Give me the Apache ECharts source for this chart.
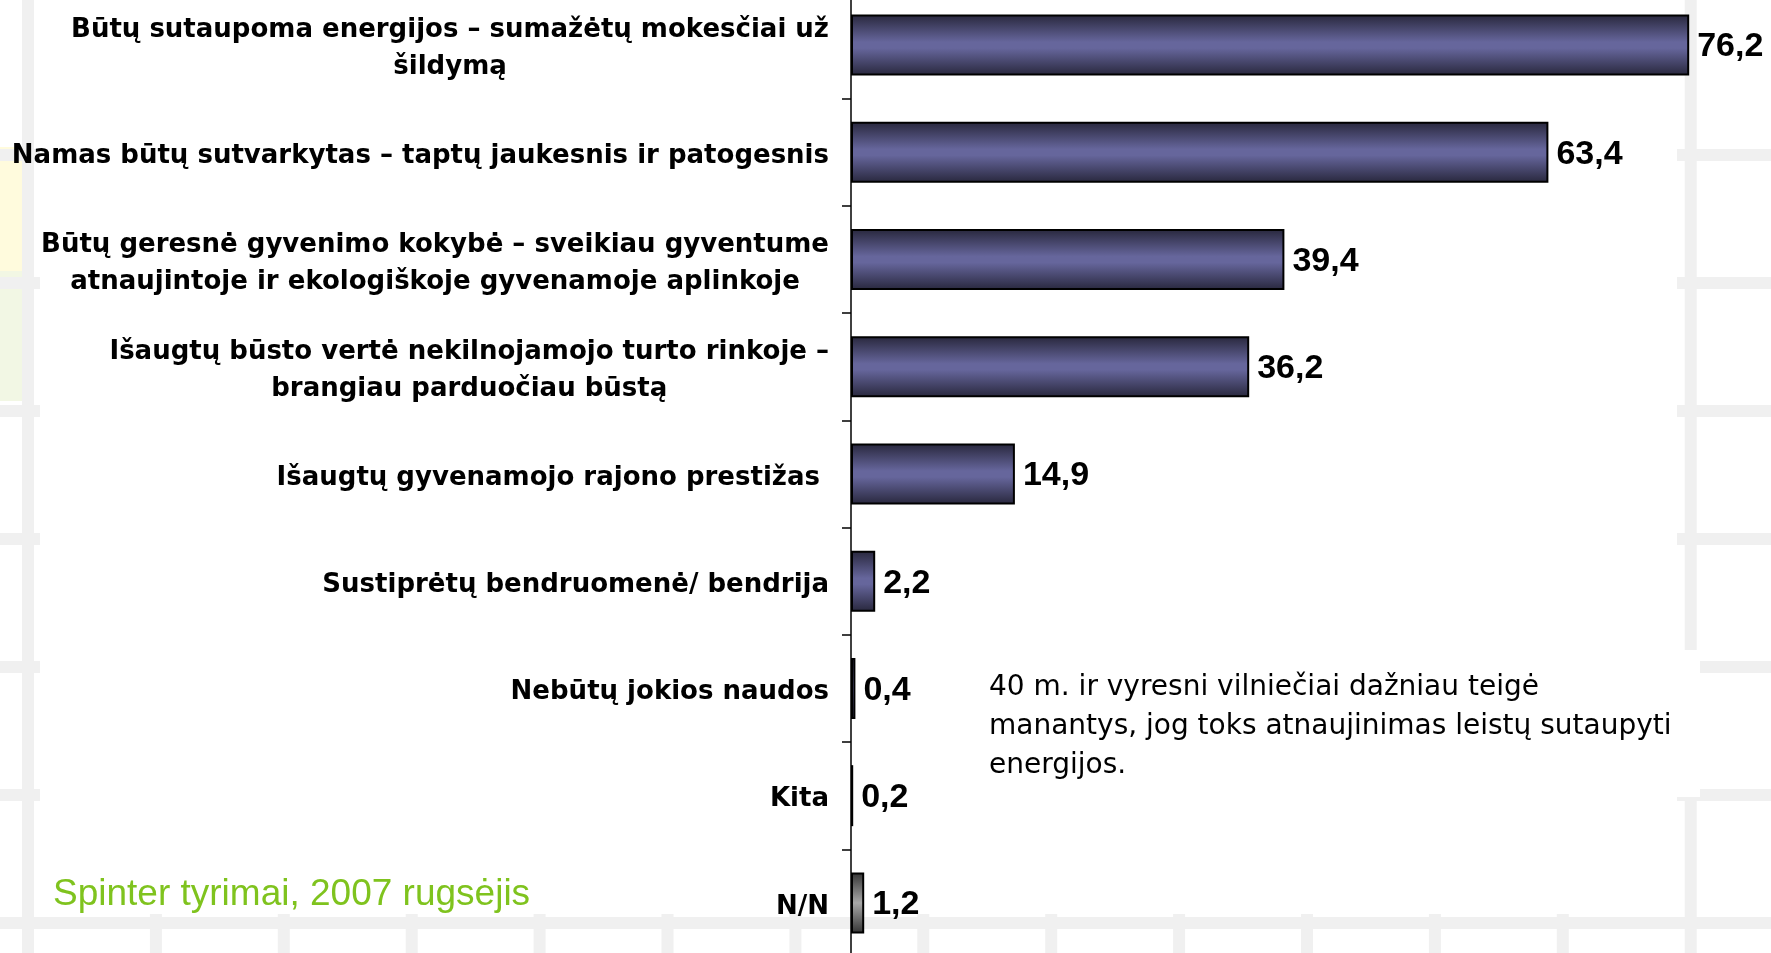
<!DOCTYPE html>
<html><head><meta charset="utf-8">
<script src="https://cdn.jsdelivr.net/npm/echarts@6/dist/echarts.min.js"></script>
<style>html,body{margin:0;padding:0;background:#fff}#c{width:1771px;height:953px}</style>
</head><body><div id="c"></div>
<script>
const categories = [
  'Būtų sutaupoma energijos – sumažėtų mokesčiai už\nšildymą',
  'Namas būtų sutvarkytas – taptų jaukesnis ir patogesnis',
  'Būtų geresnė gyvenimo kokybė – sveikiau gyventume\natnaujintoje ir ekologiškoje gyvenamoje aplinkoje',
  'Išaugtų būsto vertė nekilnojamojo turto rinkoje –\nbrangiau parduočiau būstą',
  'Išaugtų gyvenamojo rajono prestižas ',
  'Sustiprėtų bendruomenė/ bendrija',
  'Nebūtų jokios naudos',
  'Kita',
  'N/N'
];
const values = [76.2, 63.4, 39.4, 36.2, 14.9, 2.2, 0.4, 0.2, 1.2];
const noteLines = [
  '40 m. ir vyresni vilniečiai dažniau teigė',
  'manantys, jog toks atnaujinimas leistų sutaupyti',
  'energijos.'
];
const sourceText = 'Spinter tyrimai, 2007 rugsėjis';

const chart = echarts.init(document.getElementById('c'), null, {renderer: 'canvas'});

const blueGrad = new echarts.graphic.LinearGradient(0, 0, 0, 1, [
  {offset: 0, color: '#28273c'},
  {offset: 0.45, color: '#66669c'},
  {offset: 0.55, color: '#66669c'},
  {offset: 1, color: '#28273c'}
]);
const grayGrad = new echarts.graphic.LinearGradient(0, 0, 0, 1, [
  {offset: 0, color: '#333333'},
  {offset: 0.5, color: '#a8a8a8'},
  {offset: 1, color: '#333333'}
]);

// decorative slide background
const bg = [];
bg.push({type: 'rect', z: -30, shape: {x: 0, y: 147, width: 24, height: 124}, style: {fill: '#fffbdd'}});
bg.push({type: 'rect', z: -30, shape: {x: 0, y: 271, width: 24, height: 130}, style: {fill: '#f2f7e4'}});
for (let k = 0; k < 14; k++) {
  const x = 28 + 127.9 * k;
  bg.push({type: 'line', z: -20, shape: {x1: x, y1: 0, x2: x, y2: 953}, style: {stroke: '#f0f0f0', lineWidth: 12}});
}
for (let k = 1; k < 8; k++) {
  const y = 27 + 128 * k;
  bg.push({type: 'line', z: -20, shape: {x1: 0, y1: y, x2: 1771, y2: y}, style: {stroke: '#f0f0f0', lineWidth: 12}});
}
bg.push({type: 'rect', z: -10, shape: {x: 40, y: 0, width: 1637, height: 914}, style: {fill: '#ffffff'}});
bg.push({type: 'rect', z: -10, shape: {x: 975, y: 650, width: 725, height: 147}, style: {fill: '#ffffff'}});

const option = {
  backgroundColor: '#ffffff',
  animation: false,
  grid: {left: 851, width: 880, top: -8.5, height: 965, containLabel: false, outerBoundsMode: 'none'},
  xAxis: {
    type: 'value', min: 0, max: 80, show: false
  },
  yAxis: {
    type: 'category',
    inverse: true,
    data: categories,
    axisLine: {show: true, lineStyle: {color: '#000', width: 1.5}},
    axisTick: {show: true, length: 9, lineStyle: {color: '#000', width: 1.5}},
    splitLine: {show: false},
    axisLabel: {
      interval: 0,
      margin: 22,
      align: 'right',
      padding: [8, 0, 0, 0],
      formatter: function (v) {
        return v.split('\n').map(function (l) { return '{c|' + l + '}'; }).join('\n');
      },
      rich: {
        c: {
          align: 'center',
          fontFamily: 'DejaVu Sans',
          fontWeight: 'bold',
          fontSize: 26,
          lineHeight: 37,
          color: '#000'
        }
      }
    }
  },
  series: [{
    type: 'bar',
    barWidth: 61,
    data: values.map(function (v, i) {
      return {
        value: v,
        itemStyle: {
          color: categories[i] === 'N/N' ? grayGrad : blueGrad,
          borderColor: '#000',
          borderWidth: 2
        }
      };
    }),
    label: {
      show: true,
      position: 'right',
      distance: 8,
      offset: [0, 2],
      fontFamily: 'Liberation Sans',
      fontWeight: 'bold',
      fontSize: 34,
      color: '#000',
      formatter: function (p) { return String(p.value).replace('.', ','); }
    }
  }],
  graphic: bg.concat([
    {
      type: 'text', z: 50, left: 989, top: 668,
      style: {
        text: noteLines.join('\n'),
        font: '28px "DejaVu Sans"',
        lineHeight: 39,
        fill: '#000'
      }
    },
    {
      type: 'text', z: 50, left: 53, top: 876,
      style: {
        text: sourceText,
        font: '37px "Liberation Sans"',
        fill: '#7fc31e'
      }
    }
  ])
};
chart.setOption(option);
</script>
</body></html>
